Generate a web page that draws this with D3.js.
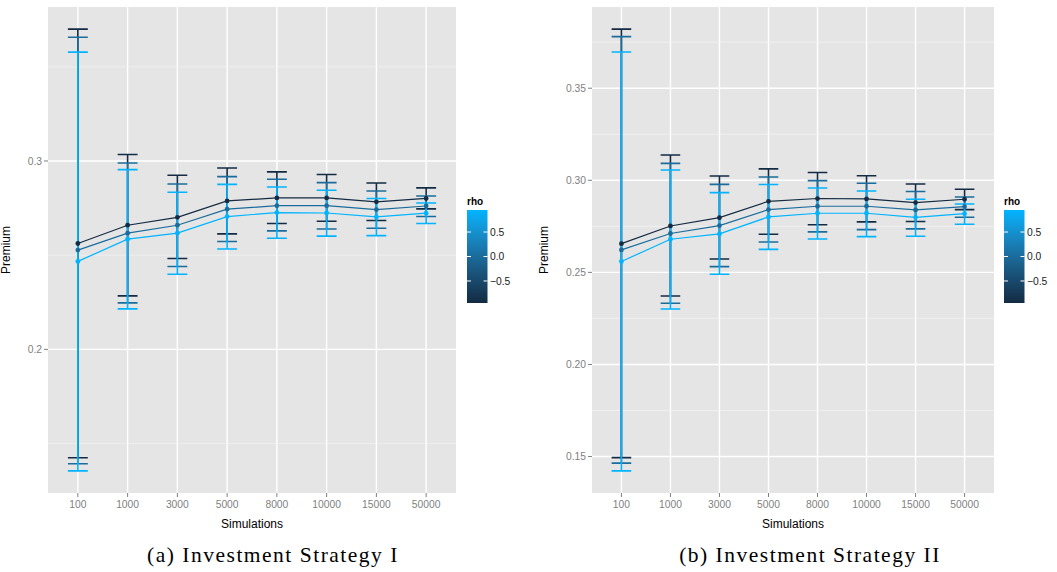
<!DOCTYPE html>
<html>
<head>
<meta charset="utf-8">
<script src="https://cdn.jsdelivr.net/npm/d3@7"></script>
<style>
  html, body { margin: 0; padding: 0; background: #ffffff; }
  svg { display: block; font-family: 'Liberation Sans', Arial, sans-serif; }
</style>
</head>
<body>
<div id="chart"></div>
<script>
// x categories and rho groups
const simulations = ['100', '1000', '3000', '5000', '8000', '10000', '15000', '50000'];
const rhoValues = [-0.95, 0, 0.95];

// Investment Strategy I (rows follow rhoValues)
const s1Premium = [
  [0.2562, 0.2659, 0.2701, 0.2788, 0.2804, 0.2804, 0.2783, 0.2801],
  [0.2527, 0.2617, 0.2659, 0.2744, 0.2763, 0.2763, 0.2742, 0.2761],
  [0.2467, 0.2585, 0.2617, 0.2705, 0.2726, 0.2724, 0.2703, 0.2723],
];
const s1Lower = [
  [0.1425, 0.2284, 0.2482, 0.2613, 0.2668, 0.2680, 0.2684, 0.2746],
  [0.1393, 0.2247, 0.2440, 0.2573, 0.2629, 0.2639, 0.2643, 0.2705],
  [0.1355, 0.2215, 0.2399, 0.2533, 0.2590, 0.2601, 0.2604, 0.2668],
];
const s1Upper = [
  [0.3700, 0.3034, 0.2924, 0.2963, 0.2942, 0.2928, 0.2883, 0.2857],
  [0.3657, 0.2989, 0.2878, 0.2917, 0.2903, 0.2885, 0.2841, 0.2814],
  [0.3578, 0.2954, 0.2834, 0.2876, 0.2862, 0.2845, 0.2801, 0.2777],
];

// Investment Strategy II
const s2Premium = [
  [0.2656, 0.2752, 0.2797, 0.2886, 0.2901, 0.2899, 0.2879, 0.2897],
  [0.2622, 0.2711, 0.2754, 0.2841, 0.2859, 0.2859, 0.2839, 0.2857],
  [0.2559, 0.2680, 0.2709, 0.2801, 0.2821, 0.2821, 0.2799, 0.2819],
];
const s2Lower = [
  [0.1494, 0.2372, 0.2573, 0.2707, 0.2759, 0.2774, 0.2776, 0.2841],
  [0.1464, 0.2332, 0.2531, 0.2665, 0.2720, 0.2732, 0.2736, 0.2799],
  [0.1422, 0.2301, 0.2490, 0.2625, 0.2681, 0.2694, 0.2696, 0.2761],
];
const s2Upper = [
  [0.3821, 0.3137, 0.3023, 0.3062, 0.3042, 0.3025, 0.2980, 0.2951],
  [0.3780, 0.3092, 0.2978, 0.3018, 0.2998, 0.2984, 0.2939, 0.2909],
  [0.3697, 0.3056, 0.2933, 0.2977, 0.2958, 0.2942, 0.2897, 0.2871],
];

const s1Major = [0.2, 0.3];
const s1Minor = [0.15, 0.25, 0.35];
const s2Major = [0.15, 0.2, 0.25, 0.3, 0.35];
const s2Minor = [0.175, 0.225, 0.275, 0.325, 0.375];
const legendTicks = [-0.5, 0, 0.5];

const W = 1057, H = 572;
const lowCol = '#132B43', highCol = '#00B4FF';
const rhoDomain = d3.extent(rhoValues);
const colour = d3.scaleLinear().domain(rhoDomain).range([lowCol, highCol]).interpolate(d3.interpolateLab);

const svg = d3.select('#chart').append('svg').attr('width', W).attr('height', H);
const defs = svg.append('defs');
const grad = defs.append('linearGradient').attr('id', 'rhoGrad')
  .attr('x1', 0).attr('y1', 1).attr('x2', 0).attr('y2', 0);
d3.range(0, 1.0001, 0.1).forEach((t) => {
  grad.append('stop').attr('offset', t).attr('stop-color', colour(rhoDomain[0] + t * (rhoDomain[1] - rhoDomain[0])));
});

function drawPanel(p) {
  const x = d3.scalePoint().domain(simulations).range([p.x0, p.x1]).padding(0.6);
  const all = p.lower.flat().concat(p.upper.flat(), p.premium.flat());
  const [lo, hi] = d3.extent(all);
  const pad = (hi - lo) * 0.05;
  const y = d3.scaleLinear().domain([lo - pad, hi + pad]).range([p.y1, p.y0]);

  svg.append('rect').attr('x', p.x0).attr('y', p.y0).attr('width', p.x1 - p.x0).attr('height', p.y1 - p.y0).attr('fill', '#E5E5E5');

  const g = svg.append('g');
  g.selectAll('line.minor').data(p.minor).join('line')
    .attr('x1', p.x0).attr('x2', p.x1).attr('y1', (d) => y(d)).attr('y2', (d) => y(d))
    .attr('stroke', '#F2F2F2').attr('stroke-width', 0.8);
  g.selectAll('line.majorY').data(p.major).join('line')
    .attr('x1', p.x0).attr('x2', p.x1).attr('y1', (d) => y(d)).attr('y2', (d) => y(d))
    .attr('stroke', '#ffffff').attr('stroke-width', 1.4);
  g.selectAll('line.majorX').data(simulations).join('line')
    .attr('x1', (d) => x(d)).attr('x2', (d) => x(d)).attr('y1', p.y0).attr('y2', p.y1)
    .attr('stroke', '#ffffff').attr('stroke-width', 1.4);

  // axes ticks + labels
  g.selectAll('line.yt').data(p.major).join('line')
    .attr('x1', p.x0 - 4).attr('x2', p.x0).attr('y1', (d) => y(d)).attr('y2', (d) => y(d))
    .attr('stroke', '#7F7F7F').attr('stroke-width', 1);
  g.selectAll('text.yl').data(p.major).join('text')
    .attr('x', p.x0 - 6).attr('y', (d) => y(d) + 3.7)
    .attr('text-anchor', 'end').attr('font-size', 10.3).attr('fill', '#7F7F7F')
    .text((d) => d3.format(p.fmt)(d));
  g.selectAll('line.xt').data(simulations).join('line')
    .attr('x1', (d) => x(d)).attr('x2', (d) => x(d)).attr('y1', p.y1).attr('y2', p.y1 + 4)
    .attr('stroke', '#7F7F7F').attr('stroke-width', 1);
  g.selectAll('text.xl').data(simulations).join('text')
    .attr('x', (d) => x(d)).attr('y', p.y1 + 15)
    .attr('text-anchor', 'middle').attr('font-size', 10.3).attr('fill', '#7F7F7F')
    .text((d) => d);

  svg.append('text').attr('x', (p.x0 + p.x1) / 2).attr('y', p.y1 + 35)
    .attr('text-anchor', 'middle').attr('font-size', 12).attr('fill', '#000').text('Simulations');
  svg.append('text').attr('transform', `translate(${p.x0 - p.titleOff},${(p.y0 + p.y1) / 2}) rotate(-90)`)
    .attr('text-anchor', 'middle').attr('font-size', 12).attr('fill', '#000').text('Premium');

  // series
  const series = rhoValues.map((r, i) => ({
    rho: r,
    pts: simulations.map((s, j) => ({ s, v: p.premium[i][j], lo: p.lower[i][j], hi: p.upper[i][j] })),
  }));
  const cap = x.step() * 0.2;

  series.forEach((sr) => {
    const c = colour(sr.rho);
    const eb = g.append('g').attr('stroke', c).attr('stroke-width', 1.6).attr('fill', 'none');
    sr.pts.forEach((d) => {
      eb.append('path').attr('d',
        `M${x(d.s) - cap},${y(d.hi)}H${x(d.s) + cap}M${x(d.s)},${y(d.hi)}V${y(d.lo)}M${x(d.s) - cap},${y(d.lo)}H${x(d.s) + cap}`);
    });
  });
  series.forEach((sr) => {
    g.append('path').datum(sr.pts)
      .attr('fill', 'none').attr('stroke', colour(sr.rho)).attr('stroke-width', 1.2)
      .attr('d', d3.line().x((d) => x(d.s)).y((d) => y(d.v)));
  });
  series.forEach((sr) => {
    g.selectAll(null).data(sr.pts).join('circle')
      .attr('cx', (d) => x(d.s)).attr('cy', (d) => y(d.v)).attr('r', 2.4)
      .attr('fill', colour(sr.rho));
  });

  // colourbar legend
  const lg = svg.append('g');
  const ly = d3.scaleLinear().domain(rhoDomain).range([303, 210]);
  lg.append('text').attr('x', p.lx).attr('y', 205).attr('font-size', 10).attr('font-weight', 700).attr('fill', '#000').text('rho');
  lg.append('rect').attr('x', p.lx).attr('y', 210).attr('width', 20.5).attr('height', 93).attr('fill', 'url(#rhoGrad)');
  legendTicks.forEach((t) => {
    lg.append('line').attr('x1', p.lx).attr('x2', p.lx + 4).attr('y1', ly(t)).attr('y2', ly(t)).attr('stroke', '#fff').attr('stroke-width', 1);
    lg.append('line').attr('x1', p.lx + 16.5).attr('x2', p.lx + 20.5).attr('y1', ly(t)).attr('y2', ly(t)).attr('stroke', '#fff').attr('stroke-width', 1);
    lg.append('text').attr('x', p.lx + 23).attr('y', ly(t) + 3.7).attr('font-size', 10.3).attr('fill', '#1a1a1a')
      .text(d3.format('.1f')(t).replace('-', '\u2212'));
  });

  svg.append('text').attr('x', p.capX).attr('y', 562)
    .attr('text-anchor', 'middle').attr('font-family', "'Liberation Serif', 'DejaVu Serif', serif")
    .attr('font-size', 21.5).attr('letter-spacing', 1.5).attr('fill', '#000').text(p.caption);
}

drawPanel({ x0: 48, x1: 456, y0: 7, y1: 493, premium: s1Premium, lower: s1Lower, upper: s1Upper,
  major: s1Major, minor: s1Minor, fmt: '.1f', titleOff: 38, lx: 467, capX: 273, caption: '(a) Investment Strategy I' });
drawPanel({ x0: 592, x1: 994, y0: 7, y1: 493, premium: s2Premium, lower: s2Lower, upper: s2Upper,
  major: s2Major, minor: s2Minor, fmt: '.2f', titleOff: 44, lx: 1004, capX: 810, caption: '(b) Investment Strategy II' });
</script>
</body>
</html>
